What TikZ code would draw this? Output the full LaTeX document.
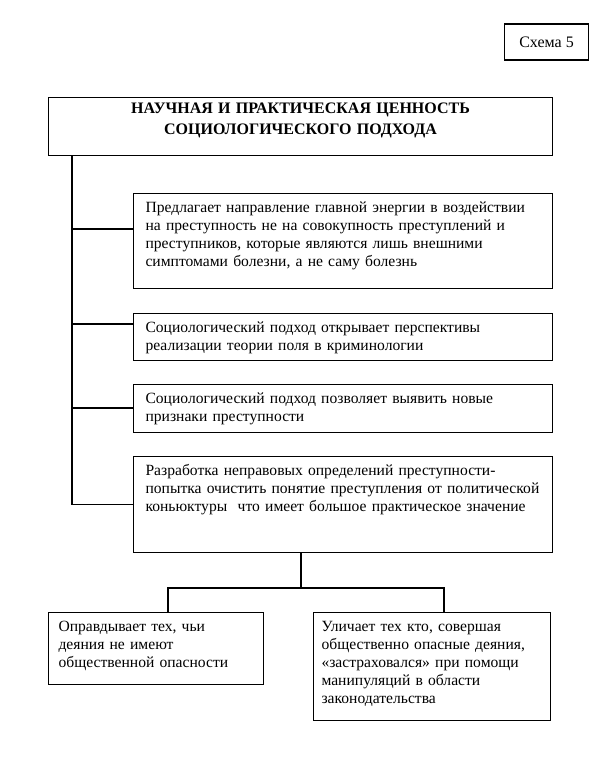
\documentclass[tikz,border=0pt]{standalone}
\usepackage{fontspec}
\setmainfont{Liberation Serif}
\usetikzlibrary{calc}
\begin{document}
\begin{tikzpicture}[x=0.75pt,y=-0.75pt,
  box/.style={draw,line width=0.8pt,anchor=north west,align=left,
    font=\fontsize{11.7}{13.5}\selectfont,inner xsep=9pt,inner ysep=5.25pt,
    text height=9pt},
  head/.style={box,align=center,inner ysep=3pt,
    font=\bfseries\fontsize{12}{16}\selectfont},
  tag/.style={draw,line width=0.8pt,inner sep=0pt,minimum width=63pt,
    minimum height=27pt,font=\fontsize{12}{13.5}\selectfont},
  link/.style={line width=0.8pt}]
  \useasboundingbox (0,0) rectangle (613,757);
  \node[tag] (schema) at (546.5,42) {Схема 5};
  \node[head,text width=360pt,text depth=28.5pt] (title) at (48,97)
    {НАУЧНАЯ И ПРАКТИЧЕСКАЯ ЦЕННОСТЬ\\СОЦИОЛОГИЧЕСКОГО ПОДХОДА};
  \node[box,text width=296.25pt,text depth=51.75pt] (energy) at (133,193)
    {Предлагает направление главной энергии в воздействии\\
     на преступность не на совокупность преступлений и\\
     преступников, которые являются лишь внешними\\
     симптомами болезни, а не саму болезнь};
  \node[box,text width=296.25pt,text depth=15.75pt] (field) at (133,313)
    {Социологический подход открывает перспективы\\
     реализации теории поля в криминологии};
  \node[box,text width=296.25pt,text depth=16.5pt] (signs) at (133,384)
    {Социологический подход позволяет выявить новые\\
     признаки преступности};
  \node[box,text width=296.25pt,text depth=52.5pt] (defs) at (133,456)
    {Разработка неправовых определений преступности-\\
     \mbox{попытка очистить понятие преступления от политической}\\
     коньюктуры \ что имеет большое практическое значение};
  \node[box,text width=146.25pt,text depth=34.5pt,inner xsep=7.5pt] (justify) at (48,612)
    {Оправдывает тех, чьи\\деяния не имеют\\общественной опасности};
  \node[box,text width=165.75pt,text depth=61.5pt,inner xsep=6pt] (expose) at (313,612)
    {Уличает тех кто, совершая\\общественно опасные деяния,\\
     «застраховался» при помощи\\манипуляций в области\\законодательства};
  % ствол слева
  \coordinate (trunk) at (72,155);
  \draw[link] (title.south -| trunk) |- (defs.west);
  \draw[link] ($(energy.north west)+(0,36)$) -- ($(energy.north west -| trunk)+(0,36)$);
  \draw[link] ($(field.north west)+(0,11)$) -- ($(field.north west -| trunk)+(0,11)$);
  \draw[link] ($(signs.north west)+(0,24)$) -- ($(signs.north west -| trunk)+(0,24)$);
  % развилка внизу
  \coordinate (fork) at (301,588);
  \coordinate (forkL) at (168,588);
  \coordinate (forkR) at (444,588);
  \draw[link] (defs.south -| fork) -- (fork);
  \draw[link] (justify.north -| forkL) -- (forkL) -- (forkR) -- (expose.north -| forkR);
\end{tikzpicture}
\end{document}
